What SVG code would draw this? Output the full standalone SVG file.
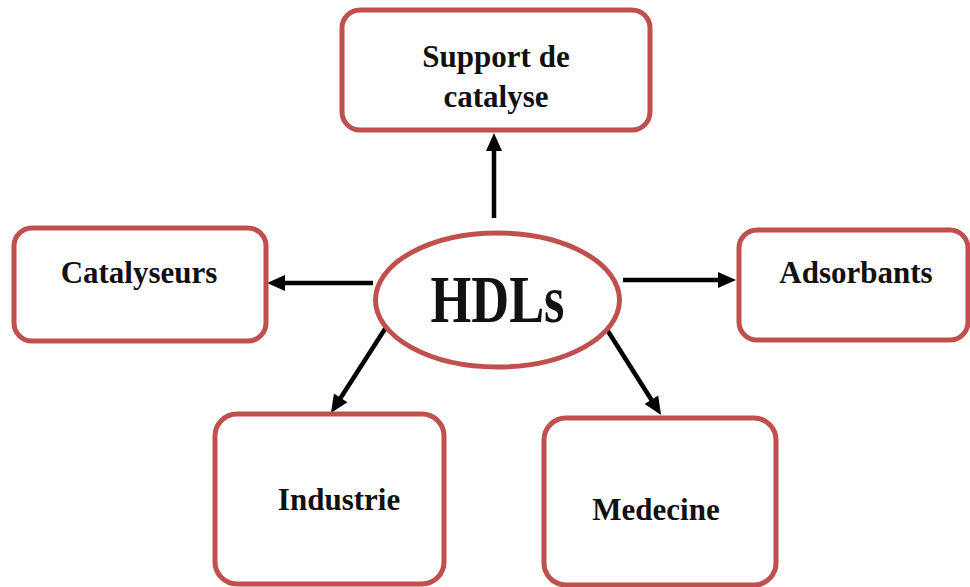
<svg xmlns="http://www.w3.org/2000/svg" width="970" height="587" viewBox="0 0 970 587">
<style>
.box{fill:#fff;stroke:#c0504d;stroke-width:5}
.t{font-family:"Liberation Serif","Times New Roman",serif;font-weight:bold;font-size:31px;fill:#111;text-anchor:middle}
.c{stroke:#000;stroke-width:4.5;fill:none;marker-end:url(#ah)}
</style>
<defs>
<marker id="ah" markerUnits="userSpaceOnUse" markerWidth="20" markerHeight="18" refX="2" refY="8" orient="auto" overflow="visible">
<path d="M0,0 L18,8 L0,16 z" fill="#000"/>
</marker>
</defs>
<rect width="970" height="587" fill="#fff"/>
<g id="connectors">
<line class="c" x1="494" y1="218" x2="494" y2="149"/>
<line class="c" x1="373" y1="283" x2="283" y2="283"/>
<line class="c" x1="623" y1="280" x2="720" y2="280"/>
<line class="c" x1="392" y1="318" x2="339.6" y2="399.5"/>
<line class="c" x1="599" y1="317" x2="652.5" y2="401.5"/>
</g>
<g id="support">
<rect class="box" x="342" y="10" width="308" height="120" rx="18"/>
<text class="t" x="496" y="67">Support de</text>
<text class="t" x="496" y="107">catalyse</text>
</g>
<g id="catalyseurs">
<rect class="box" x="14" y="228" width="252" height="113" rx="18"/>
<text class="t" x="139" y="283">Catalyseurs</text>
</g>
<g id="hdls">
<ellipse class="box" cx="497.5" cy="300" rx="122" ry="67"/>
<text class="t" x="497.5" y="322" font-size="68" textLength="134" lengthAdjust="spacingAndGlyphs" style="font-size:68px">HDLs</text>
</g>
<g id="adsorbants">
<rect class="box" x="739" y="230" width="229" height="110" rx="18"/>
<text class="t" x="856" y="283">Adsorbants</text>
</g>
<g id="industrie">
<rect class="box" x="215" y="414" width="229" height="170" rx="22"/>
<text class="t" x="339" y="510">Industrie</text>
</g>
<g id="medecine">
<rect class="box" x="544" y="418" width="232" height="167" rx="22"/>
<text class="t" x="656" y="520">Medecine</text>
</g>
</svg>
